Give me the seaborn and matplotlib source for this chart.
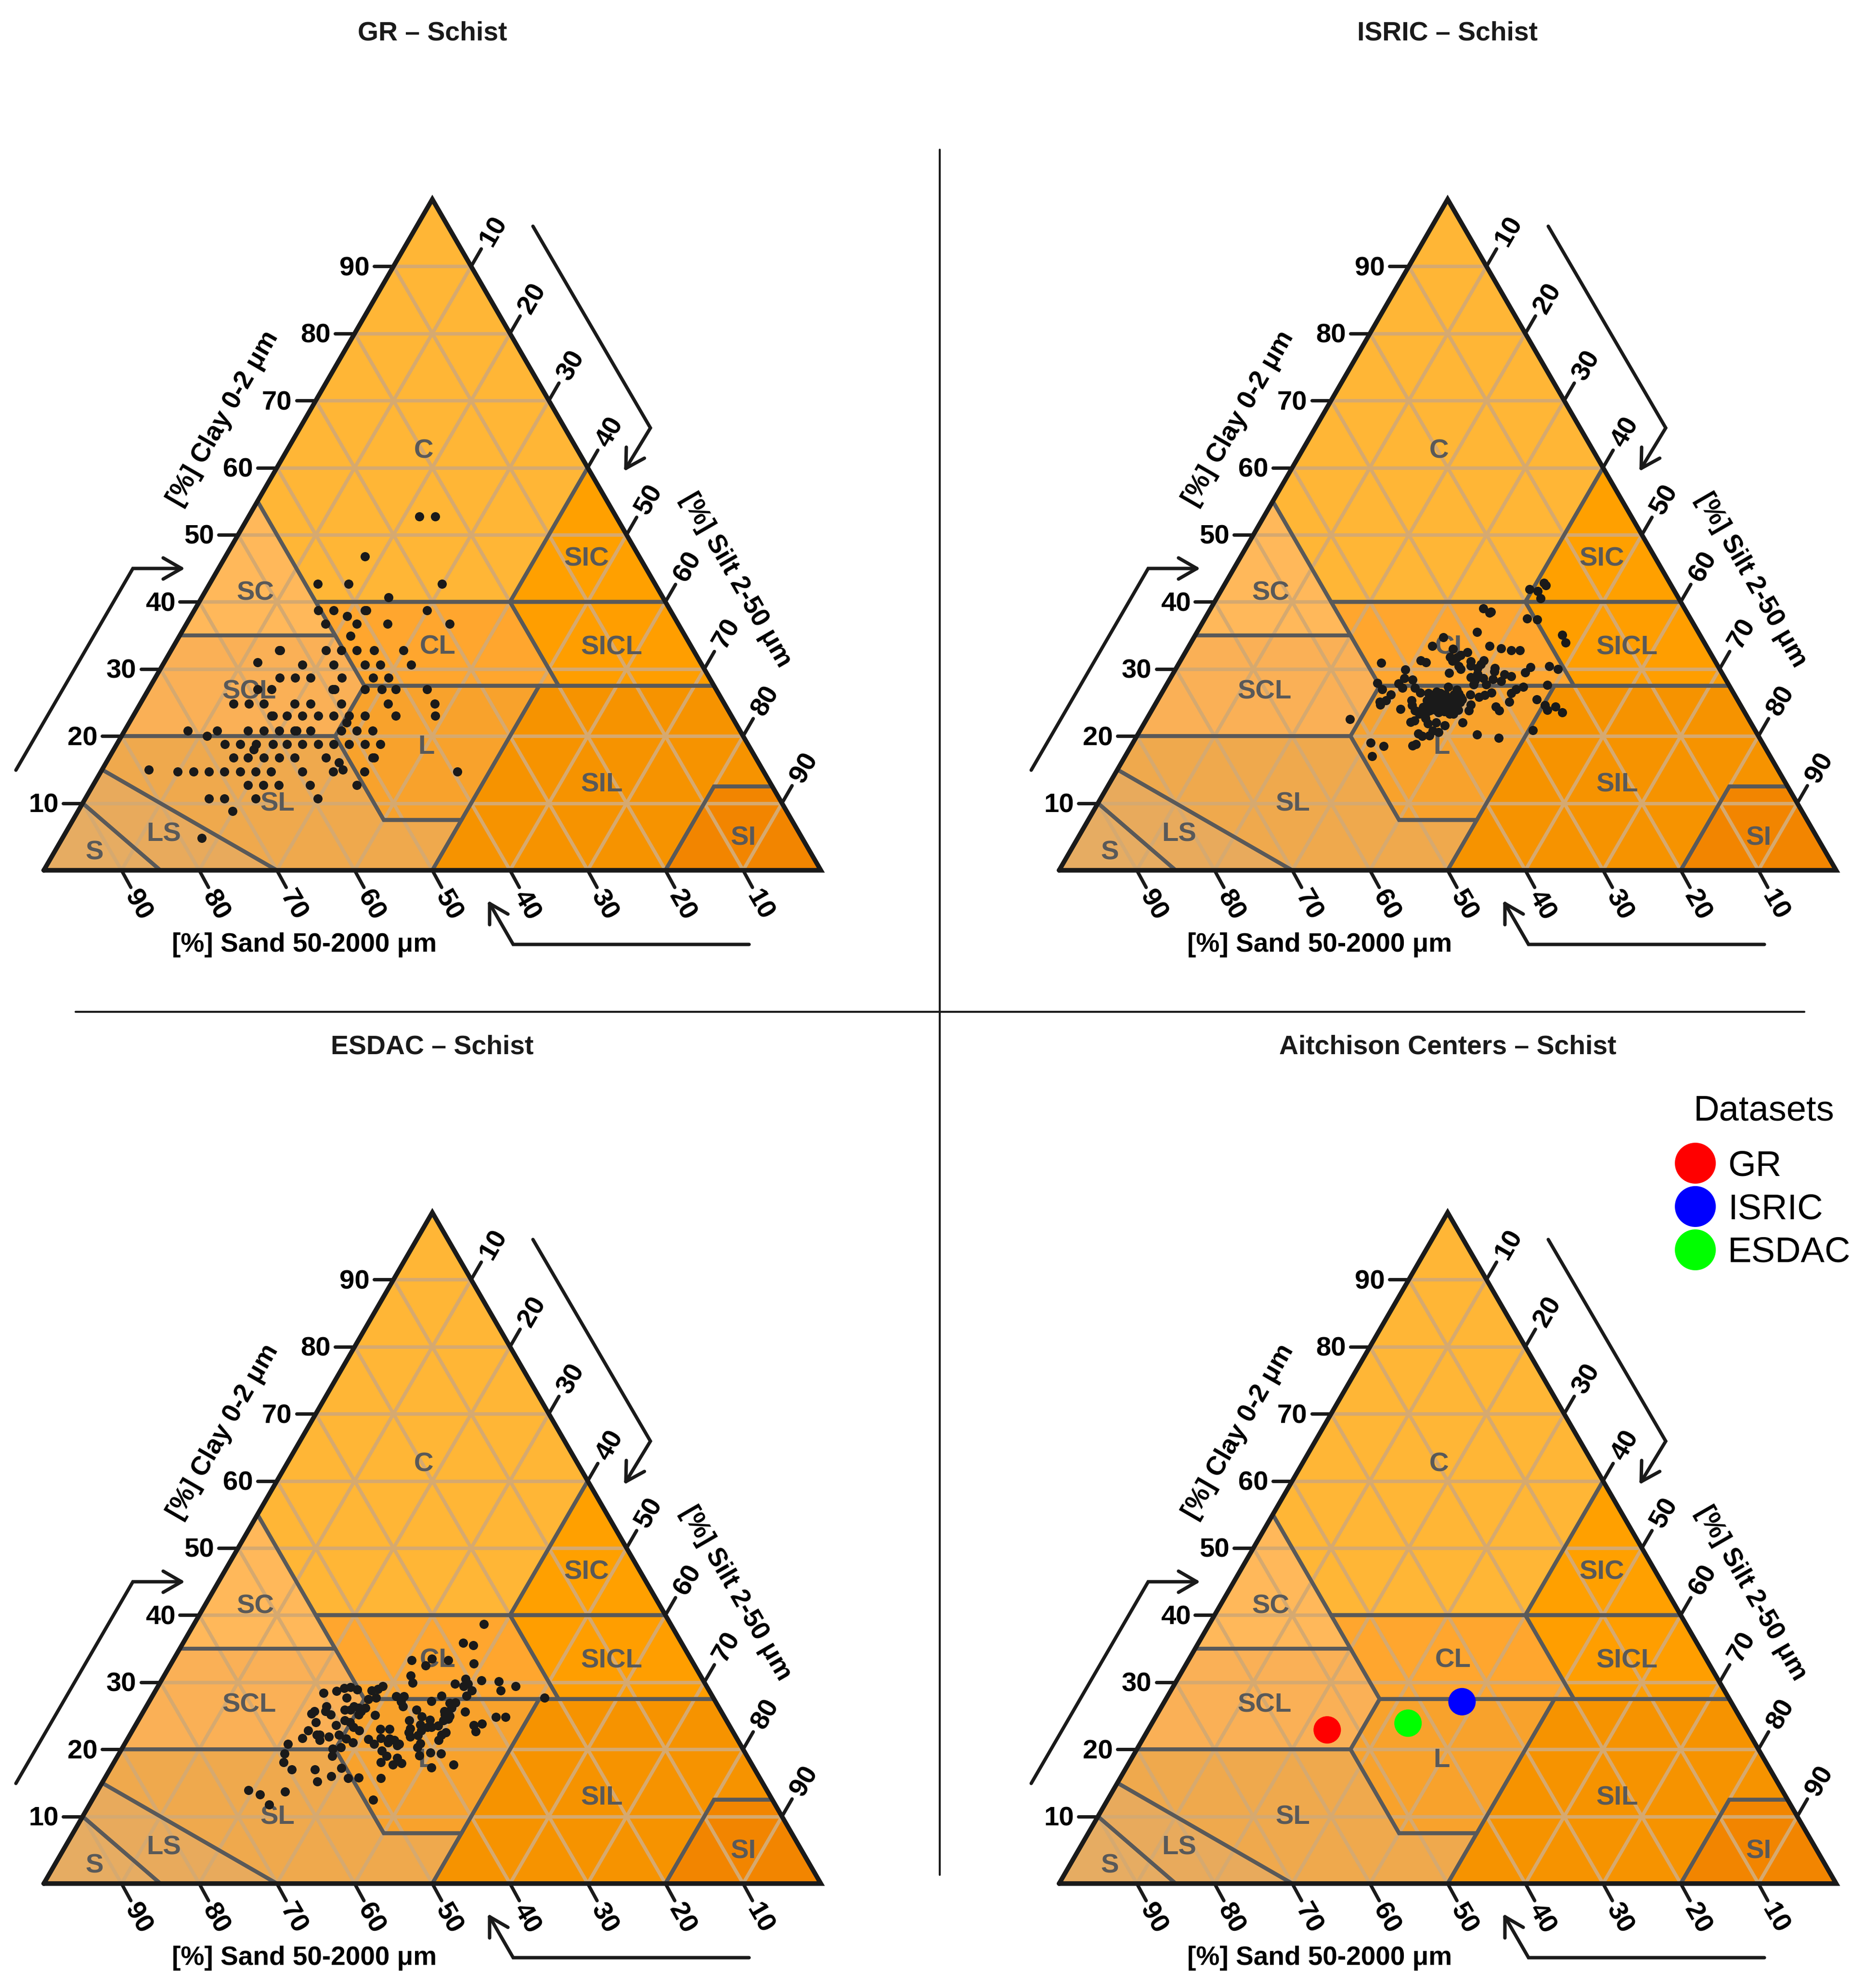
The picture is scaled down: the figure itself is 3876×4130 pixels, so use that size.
import numpy as np
import pandas as pd
import seaborn as sns
import matplotlib.pyplot as plt
from matplotlib.lines import Line2D

# measured points, all as % sand / % clay (silt is whatever is left)
gr_sand = [25.3, 23.3, 35.3, 43.4, 39.4, 27.4, 35.3, 45.3, 43.3, 39.3, 39.1, 31.3, 42, 45.4, 41.4, 37.4, 29.4, 43.1,
           53.3, 53.2, 47.3, 45.3, 43.3, 41.1, 37.3, 57, 51.4, 47.4, 43.4, 41.4, 37.4,
           55.3, 53.3, 51.3, 47.3, 43.3, 41.3, 59, 57.2, 49.1, 49.3, 45.2, 43, 41.2, 37.2,
           63.2, 61.2, 59.3, 55.3, 53.3, 49.3, 43.3, 37.3, 59.2, 59, 57.2, 55.2, 53.2, 51.2, 49.2, 47.2, 43.2, 38.1, 50,
           71.1, 67.3, 63.3, 61.3, 59.3, 57.3, 57.1, 55.3, 51.3, 49.3, 47.3, 69,
           67.3, 65.3, 63.3, 61.1, 59.3, 57.3, 55.3, 53.3, 51.3, 49.3, 47.3, 64,
           67.2, 65.3, 63.3, 61.3, 59.3, 55.3, 49.3, 49.1, 53.95, 79, 54,
           75.4, 73.4, 71.4, 69.4, 67.4, 65.4, 63.4, 59.4, 55.4, 51.4, 39.4,
           67.4, 65.4, 63.4, 59.4, 53.4, 73.4, 71.4, 67.4, 59.4, 71.3, 77.3]
gr_clay = [52.7, 52.7, 46.75, 42.7, 42.7, 42.7, 40.7, 38.75, 38.75, 38.75, 38.75, 38.75, 37.9, 36.7, 36.7, 36.7, 36.7, 34.9,
           32.8, 32.8, 32.8, 32.8, 32.8, 32.8, 32.8, 31, 30.6, 30.6, 30.6, 30.6, 30.6,
           28.7, 28.7, 28.7, 28.7, 28.7, 28.7, 27, 27, 27, 27, 27, 27, 27, 27,
           24.8, 24.8, 24.8, 24.8, 24.8, 24.8, 24.8, 24.8, 23, 23, 23, 23, 23, 23, 23, 23, 23, 23, 22,
           20.8, 20.8, 20.8, 20.8, 20.8, 20.8, 20.8, 20.8, 20.8, 20.8, 20.8, 20,
           18.8, 18.8, 18.8, 18.8, 18.8, 18.8, 18.8, 18.8, 18.8, 18.8, 18.8, 18,
           16.8, 16.8, 16.8, 16.8, 16.8, 16.8, 16.8, 16.8, 16.1, 15, 15,
           14.7, 14.7, 14.7, 14.7, 14.7, 14.7, 14.7, 14.7, 14.7, 14.7, 14.7,
           12.7, 12.7, 12.7, 12.7, 12.7, 10.7, 10.7, 10.7, 10.7, 8.8, 4.8]

isric_sand = [16.2, 16.1, 18.5, 17.6, 17.8, 25.9, 25.4, 25.2, 21, 19.8, 17.7, 17.9, 28.5, 33.2, 35.3, 32.8, 27.9, 26.6,
              25.4, 24.3, 31.2, 32.3, 33, 33.8, 33.8, 43.1, 37.8, 37.3, 31.5, 31.8, 29.7, 30.4, 31.1, 33.4, 33.3, 40.5,
              35.1, 28.9, 29.2, 24.2, 25.3, 21.7, 20.8, 41.3, 40.3, 42.4, 42.2, 45.1, 31.5, 32.6, 32.3, 32.8, 31.1, 31.2,
              29.9, 28.1, 29, 27.4, 36.3, 26.6, 27.7, 28.6, 23.4, 44.9, 40.6, 40.3, 44.2, 45.3, 46.2, 46.3, 38.1, 37.7,
              37.2, 39.4, 38.7, 38.4, 40, 35.4, 35.4, 34, 31.1, 32.2, 33.1, 42, 42.3, 44.1, 42.3, 41, 39.9, 39.1, 38.2,
              37.2, 36.4, 35.9, 34.7, 35.4, 31.6, 31.5, 29.5, 25.8, 25.2, 25.2, 23.9, 23.5, 39.6, 38.6, 37.8, 37.6, 36.7,
              41.2, 42, 41.5, 51.3, 43.7, 43.1, 41.6, 40.5, 39.6, 37.1, 28.6, 43.6, 43.3, 42.3, 41.5, 40.9, 36.1, 33.6,
              50.4, 49, 51.2, 45.2, 44.7,
              39.3, 39.3, 38, 37.3, 36.1, 35.9, 40.5, 38.9, 37.8, 37, 39.4, 38.1, 40.4, 41.5, 35.4, 35.4]
isric_clay = [42.8, 42.5, 41.9, 41.6, 40.5, 39, 38.4, 38.5, 37.5, 37.4, 35.1, 33.9, 35.5, 34.7, 33.4, 33, 33.4, 33.1,
              32.8, 32.8, 32.5, 32.1, 31.7, 31.8, 31.2, 30.9, 31.3, 31, 31.1, 30.5, 31.3, 30.7, 30.1, 30.4, 30, 29.9,
              29.4, 30.1, 29.6, 30.3, 29.5, 30.4, 30, 28.6, 28.4, 27.8, 27.2, 27.9, 29.3, 28.8, 28.3, 27.7, 28.6, 27.7,
              28.5, 29.2, 28.2, 28.9, 27.3, 27.3, 27, 26.4, 27.6, 27, 27.2, 26.5, 26.2, 25.3, 25.1, 24.7, 26.6, 26.4,
              26.2, 25.7, 25.9, 25.4, 25.3, 26.3, 25.8, 26.2, 26.5, 26.1, 25.8, 25.3, 24.6, 24, 23.8, 24.3, 24.7, 24.7, 24.9,
              25.2, 25.1, 25, 24.7, 23.8, 24.4, 23.8, 25.1, 25.5, 24.6, 23.9, 24.4, 23.5, 23.9, 23.7, 24, 23.3, 23.9,
              23.3, 23.3, 22.7, 22.5, 22.1, 22.3, 21.9, 22, 21.6, 22, 20.9, 20.4, 20, 20.1, 20.8, 20.6, 20.2, 19.7,
              19, 18.5, 17, 18.6, 18.8,
              26.4, 25.3, 25.7, 25.5, 26.2, 25.5, 24, 24.5, 24.5, 24.5, 23.5, 23.3, 23.8, 23.8, 25.5, 26.9]

esdac_sand = [24, 28.1, 27, 36, 33.3, 31.3, 34.6, 28.3, 37.3, 37.6, 30.5, 32.2, 31.3, 30.5, 28.5, 26.4, 24.6, 26.8, 30.5,
              41.7, 42.5, 43.4, 45.9, 46.8, 45.2, 48, 49.8, 47.2, 44.5, 43.4, 40.7, 39.7, 40.5, 40.6, 34.8, 36.5, 31.6, 21.7,
              33.5, 34.3, 34.4, 35.6, 35.8, 35.3, 35.7, 36.4, 33, 29.4, 28.2, 50.4, 50.9, 50.5, 52.3, 52.9, 53, 48.3, 46.9,
              47.6, 46.4, 45.5, 46.3, 46.9, 44.8, 39.1, 38.9, 40.8, 38.1, 49.1, 48.6, 50.6, 48.5, 48, 39.7, 39, 37.5, 38.5,
              32.9, 31.7, 33.1, 37, 37.7, 38.5, 41.3, 41.8, 41.9, 40.8, 40, 45.2, 44, 54.6, 53.8, 53.4, 50.9, 55.9, 53.8, 52.4,
              50.3, 49.7, 47.5, 47.1, 45.8, 44.7, 45.2, 44.2, 43.9, 44.2, 41.1, 41.8, 58.2, 52.8, 51.6, 59.3, 53.4, 46.6, 46.4,
              40.5, 39.2, 42.1, 60.1, 47.6, 45.2, 46.2, 45, 59.6, 56.6, 53.1, 41.5, 38.4, 55, 57.2, 53, 51.6, 48.8, 66.7, 65.5,
              62.1, 65.1, 51.4]
esdac_clay = [38.7, 35.9, 35.5, 33.3, 33.5, 33.3, 32.5, 32.8, 31, 29.9, 30.5, 29.8, 29.4, 29.8, 30.3, 30.1, 29.4, 28.8, 28.8,
              29.4, 29, 28.8, 29.3, 29.1, 28.9, 28.7, 28.4, 27.7, 27.5, 27.7, 27.9, 27.9, 27.1, 26.4, 28, 27.2, 28, 27.7,
              27, 26.9, 26.2, 25.7, 25.2, 25, 24.5, 24.3, 25.6, 24.8, 24.8, 26.4, 25.7, 25.2, 25.7, 25.3, 24, 25.9, 26.4,
              25.9, 26.2, 26.2, 25.7, 25.2, 25.1, 25.9, 24.9, 24.3, 24.4, 24.3, 24, 23.6, 23.3, 22.8, 23.7, 23.3, 23.5, 23.3,
              23.6, 23.8, 22.7, 22.5, 22.2, 21.4, 23.1, 22.5, 21.9, 22.1, 22.8, 23, 23, 22.8, 22.2, 22.2, 22.2, 21.7, 21.4, 21.9,
              21.6, 21, 21.5, 20.8, 21.7, 21.6, 21, 21.4, 20.8, 20.6, 20.9, 20.3, 20.8, 20.1, 20.3, 19.4, 19, 19.8, 19,
              19.5, 19.4, 19.1, 18.1, 18.1, 18.7, 17.7, 17.9, 17, 17, 17.2, 17.3, 17.7, 16, 15.2, 15.7, 15.8, 15.7, 13.9, 13.3,
              13.7, 11.8, 12.5]

center_names = ['GR', 'ISRIC', 'ESDAC']
center_sand = [54.05, 34.6, 43.15]
center_clay = [22.9, 27.1, 23.9]
center_colors = ['#ff0000', '#0000ff', '#00ff00']

titles = ['GR \u2013 Schist', 'ISRIC \u2013 Schist', 'ESDAC \u2013 Schist', 'Aitchison Centers \u2013 Schist']

# USDA classes, vertices as (sand, clay)
classes = {
    'C': [(45, 55), (45, 40), (20, 40), (0, 60), (0, 100)],
    'SIC': [(20, 40), (0, 40), (0, 60)],
    'SICL': [(20, 40), (0, 40), (0, 27.5), (20, 27.5)],
    'SIL': [(50, 0), (42.5, 7.5), (22.5, 27.5), (0, 27.5), (0, 12.5), (7.5, 12.5), (20, 0)],
    'SI': [(20, 0), (7.5, 12.5), (0, 12.5), (0, 0)],
    'CL': [(45, 40), (20, 40), (20, 27.5), (45, 27.5)],
    'L': [(45, 27.5), (22.5, 27.5), (42.5, 7.5), (52.5, 7.5), (52.5, 20)],
    'SC': [(65, 35), (45, 55), (45, 35)],
    'SCL': [(80, 20), (65, 35), (45, 35), (45, 27.5), (52.5, 20)],
    'SL': [(85, 15), (80, 20), (52.5, 20), (52.5, 7.5), (42.5, 7.5), (50, 0), (70, 0)],
    'LS': [(90, 10), (85, 15), (70, 0), (85, 0)],
    'S': [(100, 0), (90, 10), (85, 0)],
}
class_colors = {'C': '#ffb636', 'SIC': '#ffa000', 'SICL': '#ff9e00', 'SIL': '#f69300', 'SI': '#f28500', 'CL': '#ffa62e',
                'L': '#f8a22c', 'SC': '#ffb85a', 'SCL': '#fab056', 'SL': '#efa94d', 'LS': '#e8aa5c', 'S': '#e6ac62'}
class_labels = {'C': (19.7, 62.8), 'SIC': (6.8, 46.7), 'SICL': (10.2, 33.5), 'SIL': (21.6, 13.1), 'SI': (7.4, 5.1),
                'CL': (32.5, 33.6), 'L': (41.4, 18.7), 'SC': (52, 41.6), 'SCL': (60.1, 26.9), 'SL': (64.8, 10.2),
                'LS': (81.7, 5.7), 'S': (92, 3)}

ticks = [10, 20, 30, 40, 50, 60, 70, 80, 90]

# pixel layout of the page
W, H = 3876, 4130
PX = 16.14  # pixels per % along the base
SQ = 13.94 / 16.14
BOX_W, BOX_H = 1765, 2023
LEFT, BASE = 91, 1808
GRID = '#d6a96f'
LINE = '#595959'
panel_origin = [(0, 0), (2109, 0), (0, 2105), (2109, 2105)]

sns.set_theme(style='white')
plt.rcParams['font.family'] = ['Liberation Sans', 'DejaVu Sans']
plt.rcParams['text.color'] = 'black'


def tern(sand, clay):
    sand = np.asarray(sand, dtype=float)
    clay = np.asarray(clay, dtype=float)
    return 100 - sand - clay / 2, clay * SQ


def frame(sand, clay):
    x, y = tern(sand, clay)
    return pd.DataFrame({'x': x, 'y': y})


def page(px, py):
    # pixel position inside a panel to axis units
    return (px - LEFT) / PX, (BASE - py) / PX


def arrow(ax, pts):
    xy = np.array([page(*p) for p in pts])
    ax.plot(xy[:, 0], xy[:, 1], color='k', lw=1.7, clip_on=False, solid_capstyle='round', solid_joinstyle='miter')
    d = xy[-2] - xy[-1]
    d = d / np.hypot(*d) * 44 / PX
    for a in (np.radians(30), np.radians(-30)):
        b = np.array([d[0] * np.cos(a) - d[1] * np.sin(a), d[0] * np.sin(a) + d[1] * np.cos(a)])
        ax.plot([xy[-1][0], xy[-1][0] + b[0]], [xy[-1][1], xy[-1][1] + b[1]], color='k', lw=1.7,
                solid_capstyle='round', clip_on=False)


def draw_base(ax, title):
    ax.set_xlim(-LEFT / PX, (BOX_W - LEFT) / PX)
    ax.set_ylim(-(BOX_H - BASE) / PX, BASE / PX)
    ax.set_axis_off()

    for name, verts in classes.items():
        x, y = tern(*zip(*verts))
        ax.fill(x, y, color=class_colors[name], lw=0, zorder=1)

    for k in ticks:
        for s, c in [((100 - k, 0), (k, k)), ((k, k), (0, 100 - k)), ((100 - k, 0), (0, 100 - k))]:
            x, y = tern(s, c)
            ax.plot(x, y, color=GRID, lw=1.75, zorder=2)

    for name, verts in classes.items():
        x, y = tern(*zip(*(verts + verts[:1])))
        ax.plot(x, y, color=LINE, lw=1.9, zorder=3, solid_joinstyle='miter')
        lx, ly = tern(*class_labels[name])
        ax.text(lx, ly - 0.3, name, color=LINE, fontsize=13.5, fontweight='bold', ha='center', va='center', zorder=4)

    x, y = tern([100, 0, 0, 100], [0, 0, 100, 0])
    ax.plot(x, y, color='k', lw=2.3, zorder=6, solid_joinstyle='miter')

    for k in ticks:
        # clay, left side
        x, y = tern(100 - k, k)
        ax.plot([x, x - 2.5], [y, y], color='k', lw=1.7, zorder=6, clip_on=False)
        ax.text(x - 5, y - 0.3, str(k), fontsize=13.5, fontweight='bold', ha='center', va='center')
        # silt, right side
        x, y = tern(0, 100 - k)
        ax.plot([x, x + 1.3], [y, y + 2.25], color='k', lw=1.7, zorder=6, clip_on=False)
        ax.text(x + 2.9, y + 4.5, str(k), fontsize=13.5, fontweight='bold', rotation=60, rotation_mode='anchor',
                ha='center', va='center')
        # sand, bottom
        x, y = tern(k, 0)
        ax.plot([x, x + 1.2], [y, y - 2.2], color='k', lw=1.7, zorder=6, clip_on=False)
        ax.text(x + 2.1, y - 4.5, str(k), fontsize=13.5, fontweight='bold', rotation=-60, rotation_mode='anchor',
                ha='center', va='center')

    lx, ly = page(464, 870)
    ax.text(lx, ly, '[%] Clay 0-2 \u03bcm', fontsize=13.2, fontweight='bold', rotation=60, rotation_mode='anchor',
            ha='center', va='center')
    lx, ly = page(1529, 1205)
    ax.text(lx, ly, '[%] Silt 2-50 \u03bcm', fontsize=13.2, fontweight='bold', rotation=-60, rotation_mode='anchor',
            ha='center', va='center')
    lx, ly = page(632, 1963)
    ax.text(lx, ly, '[%] Sand 50-2000 \u03bcm', fontsize=13.2, fontweight='bold', ha='center', va='center')

    arrow(ax, [(33, 1600), (276, 1181), (377, 1181)])
    arrow(ax, [(1107, 470), (1351, 889), (1300, 973)])
    arrow(ax, [(1556, 1962), (1066, 1962), (1017, 1877)])

    ax.set_title(title, x=898 / BOX_W, y=1 - 70 / BOX_H, pad=0, fontsize=13.3, fontweight='bold', va='center',
                 color='k')


fig = plt.figure(figsize=(W / 300, H / 300), dpi=300, facecolor='white')
axes = [fig.add_axes([ox / W, 1 - (oy + BOX_H) / H, BOX_W / W, BOX_H / H]) for ox, oy in panel_origin]

for ax, title in zip(axes, titles):
    draw_base(ax, title)

point_sets = [(gr_sand, gr_clay), (isric_sand, isric_clay), (esdac_sand, esdac_clay)]
for ax, (sand, clay) in zip(axes, point_sets):
    sns.scatterplot(data=frame(sand, clay), x='x', y='y', ax=ax, color='k', s=21, linewidth=0, zorder=5, legend=False)

centers = frame(center_sand, center_clay)
centers['dataset'] = center_names
ax = axes[3]
sns.scatterplot(data=centers, x='x', y='y', hue='dataset', hue_order=center_names, palette=center_colors, ax=ax,
                s=187, linewidth=0, zorder=5)
ax.set_axis_off()
handles, labels = ax.get_legend_handles_labels()
leg = ax.legend(handles, labels, title='Datasets', loc='center left', bbox_to_anchor=(3484 / W, 1 - 2455 / H),
                bbox_transform=fig.transFigure, frameon=False, fontsize=17.8, title_fontsize=17.8, markerscale=85 / 57,
                handlelength=1.0, handletextpad=0.42, labelspacing=0.28, borderpad=0, borderaxespad=0)
leg._legend_box.sep = 11.1

fig.add_artist(Line2D([1952 / W, 1952 / W], [1 - 311 / H, 1 - 3895 / H], color='k', lw=1.0))
fig.add_artist(Line2D([157 / W, 3748 / W], [1 - 2102 / H, 1 - 2102 / H], color='k', lw=1.0))

fig.savefig('out.png', dpi=300, facecolor='white')
